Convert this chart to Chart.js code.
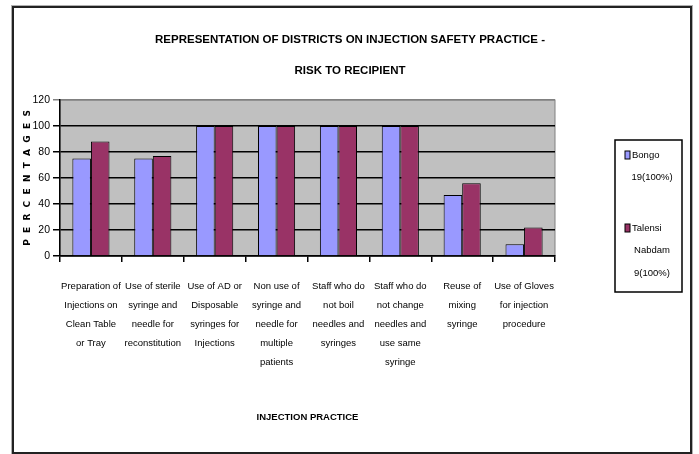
<!DOCTYPE html>
<html>
<head>
<meta charset="utf-8">
<script src="https://cdn.jsdelivr.net/npm/chart.js@4"></script>
<style>
    html, body { margin: 0; padding: 0; background: #fff; }
    #wrap { position: relative; width: 699px; height: 454px; }
</style>
</head>
<body>
<div id="wrap"><canvas id="grafico" width="699" height="454"></canvas></div>
<script>
// dados
const categorias = [
    ['Preparation of', 'Injections on', 'Clean Table', 'or Tray'],
    ['Use of sterile', 'syringe and', 'needle for', 'reconstitution'],
    ['Use of AD or', 'Disposable', 'syringes for', 'Injections'],
    ['Non use of', 'syringe and', 'needle for', 'multiple', 'patients'],
    ['Staff who do', 'not boil', 'needles and', 'syringes'],
    ['Staff who do', 'not change', 'needles and', 'use same', 'syringe'],
    ['Reuse of', 'mixing', 'syringe'],
    ['Use of Gloves', 'for injection', 'procedure']
];
const bongo = [75, 75, 100, 100, 100, 100, 47, 9];
const talensiNabdam = [88, 77, 100, 100, 100, 100, 56, 22];
const rotuloBongo = ['Bongo', '19(100%)'];
const rotuloTalensi = ['Talensi', 'Nabdam', '9(100%)'];
const ticksY = [0, 20, 40, 60, 80, 100, 120];
const titulo = ['REPRESENTATION OF DISTRICTS ON INJECTION SAFETY PRACTICE -', 'RISK TO RECIPIENT'];

const FONTE = '"Liberation Sans", Arial, sans-serif';

// fundo cinza da área do gráfico + moldura externa
const fundoPlugin = {
    id: 'fundo',
    beforeDraw(chart) {
        const { ctx, chartArea: a } = chart;
        ctx.save();
        ctx.fillStyle = '#C0C0C0';
        ctx.fillRect(a.left, a.top, a.right - a.left, a.bottom - a.top);
        ctx.strokeStyle = '#808080';
        ctx.lineWidth = 1;
        ctx.strokeRect(a.left, a.top, a.right - a.left, a.bottom - a.top);
        ctx.restore();
    },
    afterDraw(chart) {
        const ctx = chart.ctx;
        ctx.save();
        ctx.strokeStyle = '#b0b0b0';
        ctx.lineWidth = 1;
        ctx.strokeRect(11.5, 5.5, 681, 449);
        ctx.strokeStyle = '#222';
        ctx.lineWidth = 2;
        ctx.strokeRect(13, 7, 678, 446);

        // título centrado na página inteira
        ctx.fillStyle = '#000';
        ctx.font = 'bold 11.5px ' + FONTE;
        ctx.textAlign = 'center';
        ctx.textBaseline = 'middle';
        titulo.forEach((linha, i) => ctx.fillText(linha, 350, 40 + i * 31));
        ctx.restore();
    }
};

// legenda desenhada à mão (rótulos em várias linhas)
const legendaPlugin = {
    id: 'legendaManual',
    afterDraw(chart) {
        const ctx = chart.ctx;
        ctx.save();
        ctx.strokeStyle = '#000';
        ctx.lineWidth = 1.5;
        ctx.strokeRect(615, 140, 67, 152);
        ctx.font = '9.5px ' + FONTE;
        ctx.textBaseline = 'middle';
        const posY = [155, 228];
        chart.data.datasets.forEach((ds, i) => {
            const y0 = posY[i];
            ctx.fillStyle = ds.backgroundColor;
            ctx.fillRect(625, y0 - 4, 5, 8);
            ctx.strokeStyle = '#000';
            ctx.lineWidth = 1;
            ctx.strokeRect(625, y0 - 4, 5, 8);
            ctx.fillStyle = '#000';
            ds.linhas.forEach((txt, j) => {
                ctx.textAlign = j === 0 ? 'left' : 'center';
                const x = j === 0 ? 632 : 652;
                ctx.fillText(txt, x, y0 + j * 22.5);
            });
        });
        ctx.restore();
    }
};

const ctx = document.getElementById('grafico').getContext('2d');
new Chart(ctx, {
    type: 'bar',
    data: {
        labels: categorias,
        datasets: [
            {
                label: rotuloBongo.join(' '),
                linhas: rotuloBongo,
                data: bongo,
                backgroundColor: '#9999FF',
                borderColor: '#000',
                borderWidth: 1,
                categoryPercentage: 0.6,
                barPercentage: 1.0
            },
            {
                label: rotuloTalensi.join(' '),
                linhas: rotuloTalensi,
                data: talensiNabdam,
                backgroundColor: '#993366',
                borderColor: '#000',
                borderWidth: 1,
                categoryPercentage: 0.6,
                barPercentage: 1.0
            }
        ]
    },
    options: {
        responsive: false,
        animation: false,
        layout: { padding: { left: 14, right: 144, top: 100, bottom: 10 } },
        plugins: {
            legend: { display: false },
            tooltip: { enabled: false },
            title: { display: false }
        },
        scales: {
            x: {
                grid: { display: true, drawOnChartArea: false, drawTicks: true, tickLength: 6, color: '#000', lineWidth: 1.5 },
                border: { display: true, color: '#000', width: 1.5 },
                ticks: {
                    color: '#000',
                    maxRotation: 0,
                    autoSkip: false,
                    padding: 15,
                    font: { family: FONTE, size: 9.5, lineHeight: 2.0 }
                },
                title: {
                    display: true,
                    text: 'INJECTION PRACTICE',
                    color: '#000',
                    font: { family: FONTE, size: 9.5, weight: 'bold' },
                    padding: { top: 0, bottom: 21 }
                },
                afterFit(scale) { scale.height = 188; }
            },
            y: {
                min: 0,
                max: 120,
                afterBuildTicks(scale) { scale.ticks = ticksY.map(v => ({ value: v })); },
                grid: {
                    color: c => (c.tick && c.tick.value === 120 ? '#808080' : '#000'),
                    lineWidth: 1.5,
                    tickLength: 7
                },
                border: { display: true, color: '#000', width: 1.5 },
                ticks: {
                    color: '#000',
                    padding: 3,
                    font: { family: FONTE, size: 10.5 }
                },
                title: {
                    display: true,
                    text: 'P  E  R  C  E  N  T  A  G  E  S',
                    color: '#000',
                    font: { family: 'DejaVu Sans', size: 9, weight: 'bold' },
                    padding: { top: 8, bottom: 0 }
                },
                afterFit(scale) { scale.width = 46; }
            }
        }
    },
    plugins: [fundoPlugin, legendaPlugin]
});
</script>
</body>
</html>
